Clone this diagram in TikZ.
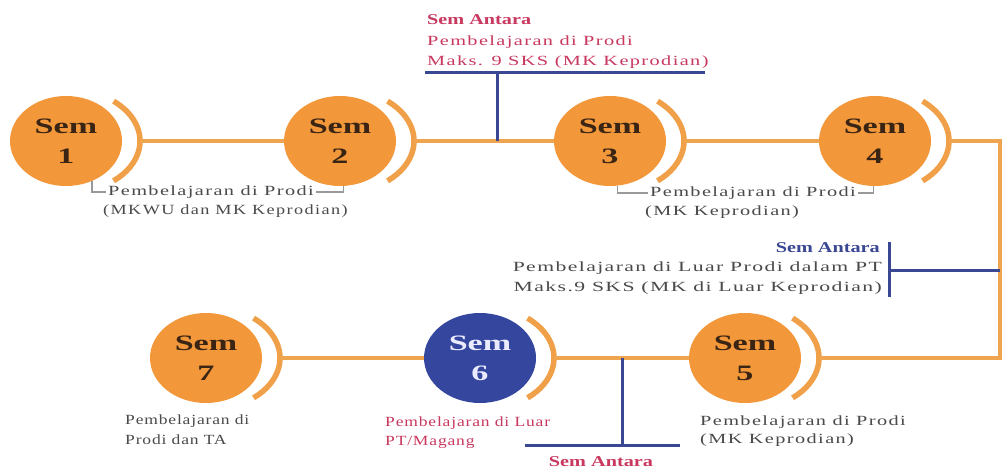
\documentclass[tikz,border=0pt]{standalone}
\usepackage{fontspec}
\setmainfont{Liberation Serif}[FakeStretch=1.2]
\newfontfamily\lblfont{Liberation Serif}[FakeStretch=1.45,LetterSpace=10]
\newfontfamily\lblwfont{Liberation Serif}[FakeStretch=1.55,LetterSpace=10]
\newfontfamily\lblmfont{Liberation Serif}[FakeStretch=1.3,LetterSpace=10]
\newfontfamily\lblnfont{Liberation Serif}[FakeStretch=1.25,LetterSpace=6]
\newfontfamily\semfont{Liberation Serif}[FakeStretch=1.55]
\newfontfamily\hdfont{Liberation Serif}[FakeStretch=1.35]
\usetikzlibrary{shapes.geometric}
\definecolor{semor}{HTML}{F2983A}
\definecolor{lineor}{HTML}{EFA550}
\definecolor{arcor}{HTML}{F0A048}
\definecolor{navy}{HTML}{3A4792}
\definecolor{semblue}{HTML}{34469E}
\definecolor{crim}{HTML}{C9385E}
\definecolor{txt}{HTML}{4A4A4A}
\definecolor{semtxt}{HTML}{3A2414}
\begin{document}
\begin{tikzpicture}[x=1pt,y=-1pt,
  sem/.style={ellipse,fill=semor,minimum width=112pt,minimum height=90pt,inner sep=0pt,align=center,
    font=\semfont\bfseries\fontsize{22}{30}\selectfont,text=semtxt},
  semb/.style={sem,fill=semblue,text=white!92!blue},
  arcline/.style={draw=arcor,line width=5.5pt},
  conn/.style={draw=lineor,line width=4pt},
  bline/.style={draw=navy,line width=3pt},
  brk/.style={draw=gray!80,line width=1.1pt},
  lbl/.style={font=\lblfont\fontsize{14}{19}\selectfont,text=txt,inner sep=2pt,align=left},
  lblw/.style={lbl,font=\lblwfont\fontsize{14}{19}\selectfont},
  lblm/.style={lbl,font=\lblmfont\fontsize{14}{19}\selectfont},
  lbln/.style={lbl,font=\lblnfont\fontsize{14}{19}\selectfont},
  lblc/.style={lbl,text=crim},
  hd/.style={font=\hdfont\bfseries\fontsize{15}{19}\selectfont,inner sep=2pt}
]
\useasboundingbox (0,0) rectangle (1003,471);
\fill[white] (0,0) rectangle (1003,471);

% circles
\node[sem] (s1) at (66,141) {Sem\\1};
\node[sem] (s2) at (340,141) {Sem\\2};
\node[sem] (s3) at (610,141) {Sem\\3};
\node[sem] (s4) at (875,141) {Sem\\4};
\node[sem] (s5) at (745,358) {Sem\\5};
\node[semb] (s6) at (480,358) {Sem\\6};
\node[sem] (s7) at (206,358) {Sem\\7};

% arcs
\foreach \s in {s1,s2,s3,s4,s5,s6,s7}{
  \draw[arcline] (\s.center) ++(-50:74 and 52) arc[start angle=-50,end angle=50,x radius=74,y radius=52];
  \coordinate (a\s) at ([xshift=74pt]\s.center);
}

% connectors
\draw[conn] (as1) -- (s2);
\draw[conn] (as2) -- (s3);
\draw[conn] (as3) -- (s4);
\coordinate (rt) at (1000,141);
\coordinate (rb) at (1000,358);
\draw[conn] (as4) -- (rt) -- (rb) -- (as5);
\draw[conn] (as6) -- (s5);
\draw[conn] (as7) -- (s6);

% top Sem Antara
\node[hd,text=crim,anchor=west] (tah) at (425,20) {Sem Antara};
\node[lblc,anchor=west] (tal1) at (425,42) {Pembelajaran di Prodi};
\node[lblc,anchor=west] (tal2) at (425,62) {Maks. 9 SKS (MK Keprodian)};
\coordinate (tbl) at (425,72);
\coordinate (tbr) at (705,72);
\coordinate (tbm) at (497,72);
\coordinate (tbd) at (497,141);
\draw[bline] (tbl) -- (tbr);
\draw[bline] (tbm) -- (tbd);

% bracket Sem 1-2
\node[lbl,anchor=west] (b12a) at (106,192) {Pembelajaran di Prodi};
\node[lblm,anchor=west] (b12b) at (101,211) {(MKWU dan MK Keprodian)};
\draw[brk] (s1.-57) |- (b12a.west);
\draw[brk] (b12a.east) -| (s2.-86);

% bracket Sem 3-4
\node[lbl,anchor=west] (b34a) at (648,193) {Pembelajaran di Prodi};
\node[lbl,anchor=west] (b34b) at (643,212) {(MK Keprodian)};
\draw[brk] (s3.-80) |- (b34a.west);
\draw[brk] (b34a.east) -| (s4.-92);

% right Sem Antara
\node[hd,text=navy,anchor=east] (rah) at (882,248) {Sem Antara};
\node[lblw,anchor=east,align=right] (ral1) at (884,268) {Pembelajaran di Luar Prodi dalam PT};
\node[lblw,anchor=east,align=right] (ral2) at (884,288) {Maks.9 SKS (MK di Luar Keprodian)};
\coordinate (rvt) at (889,242);
\coordinate (rvb) at (889,297);
\coordinate (rvm) at (889,270);
\draw[bline] (rvt) -- (rvb);
\draw[bline] (rvm) -- (rt |- rvm);

% bottom labels
\node[lbln,anchor=west] (l7a) at (123,421) {Pembelajaran di};
\node[lbln,anchor=west] (l7b) at (123,440) {Prodi dan TA};
\node[lbln,text=crim,anchor=west] (l6a) at (383,423) {Pembelajaran di Luar};
\node[lbln,text=crim,anchor=west] (l6b) at (383,442) {PT/Magang};
\node[lbl,anchor=west] (l5a) at (698,422) {Pembelajaran di Prodi};
\node[lbl,anchor=west] (l5b) at (698,440) {(MK Keprodian)};

% bottom Sem Antara
\coordinate (bbl) at (525,445);
\coordinate (bbr) at (680,445);
\coordinate (bbm) at (622,445);
\coordinate (bbt) at (622,358);
\draw[bline] (bbl) -- (bbr);
\draw[bline] (bbm) -- (bbt);
\node[hd,text=crim] (bah) at (601,462) {Sem Antara};
\end{tikzpicture}
\end{document}
